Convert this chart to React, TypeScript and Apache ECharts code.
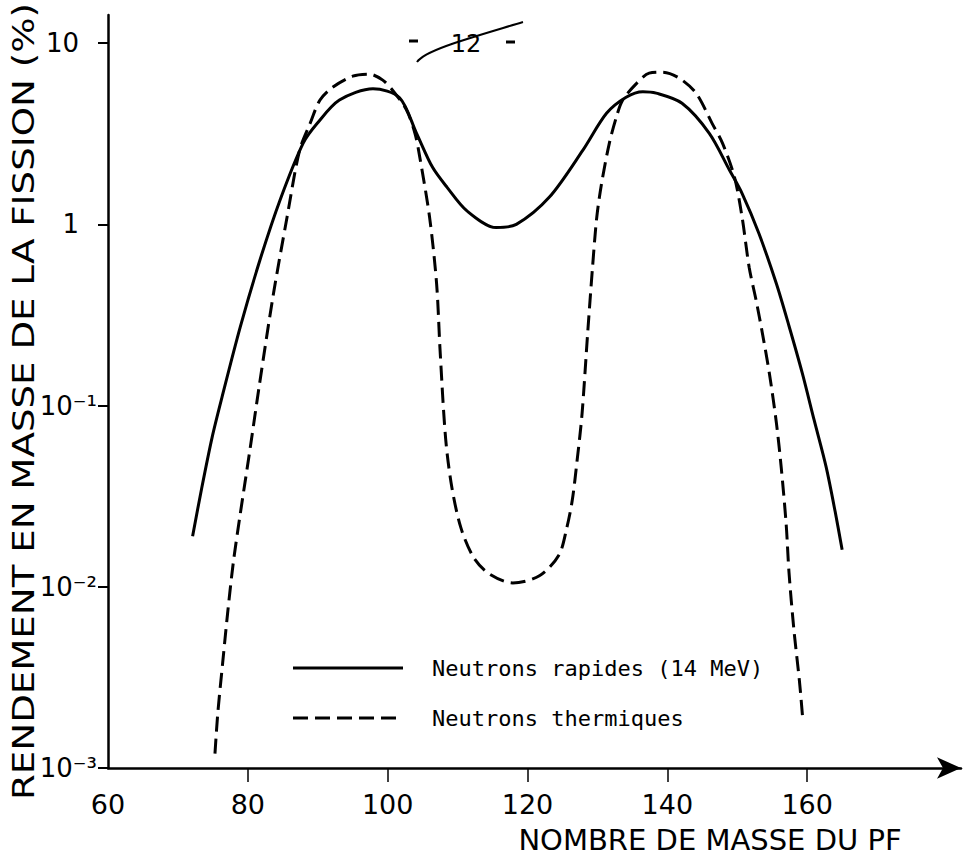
import React, { useEffect, useRef } from 'react';
import * as echarts from 'echarts';

// ---- data ----
const xTickValues = [80, 100, 120, 140, 160];
const xLabelValues = [60, 80, 100, 120, 140, 160];
const yTickValues = [0.001, 0.01, 0.1, 1, 10];

const seriesNames = ['Neutrons rapides (14 MeV)', 'Neutrons thermiques'];
const xAxisTitle = 'NOMBRE DE MASSE DU PF';
const yAxisTitle = 'RENDEMENT EN MASSE DE LA FISSION (%)';
const annotation = '12';

// fast neutrons (14 MeV) – solid curve
const fastMass = [72.1, 73.4, 74.9, 76.3, 78.9, 81.7, 84.6, 87.9, 89.9, 93.1, 97.9, 101.7, 104.1, 106.4, 108.5, 111.3, 115.5, 118.4, 123.1, 127.9, 131.3, 134.1, 136.5, 138.4, 142.1, 146.0, 148.9, 150.7, 153.1, 155.6, 157.4, 159.3, 161.0, 162.7, 164.0, 165.0];
const fastYield = [0.019, 0.035, 0.067, 0.111, 0.27, 0.63, 1.36, 2.8, 3.6, 4.85, 5.6, 5.0, 3.2, 2.07, 1.6, 1.19, 0.96, 1.0, 1.41, 2.56, 4.1, 5.03, 5.4, 5.3, 4.66, 3.18, 1.99, 1.48, 0.89, 0.47, 0.275, 0.151, 0.083, 0.046, 0.026, 0.016];

// thermal neutrons – dashed curve
const thermalMass = [75.3, 75.7, 76.4, 77.1, 77.9, 78.9, 80.3, 81.6, 83.6, 85.6, 87.4, 88.9, 90.3, 92.1, 95.0, 97.4, 99.3, 100.7, 102.7, 103.9, 104.6, 106.0, 107.0, 107.5, 108.3, 109.2, 110.5, 112.3, 114.5, 117.9, 121.7, 124.5, 125.6, 126.4, 127.1, 127.8, 128.6, 129.3, 129.9, 130.6, 131.7, 132.7, 133.6, 135.6, 137.4, 139.3, 141.7, 144.1, 146.4, 147.9, 149.6, 150.7, 151.7, 152.7, 153.6, 154.6, 155.6, 156.3, 157.0, 157.4, 158.1, 158.9, 159.4];
const thermalYield = [0.0012, 0.002, 0.0038, 0.0071, 0.0134, 0.025, 0.057, 0.126, 0.4, 1.09, 2.56, 3.6, 4.84, 5.7, 6.57, 6.74, 6.25, 5.5, 4.27, 3.18, 2.34, 1.09, 0.47, 0.2, 0.065, 0.035, 0.021, 0.0145, 0.0118, 0.0105, 0.0115, 0.015, 0.021, 0.03, 0.05, 0.09, 0.25, 0.58, 1.09, 1.69, 2.8, 3.9, 4.84, 6.0, 6.83, 6.92, 6.41, 5.3, 3.61, 2.8, 1.82, 1.09, 0.58, 0.38, 0.25, 0.15, 0.08, 0.045, 0.022, 0.012, 0.0058, 0.003, 0.0018];

const SUP: Record<string, string> = { '-1': '⁻¹', '-2': '⁻²', '-3': '⁻³' };
const FONT = "'DejaVu Sans', sans-serif";
const MONO = "'DejaVu Sans Mono', monospace";

export default function App() {
  const ref = useRef<HTMLDivElement>(null);

  useEffect(() => {
    if (!ref.current) return;
    const chart = echarts.init(ref.current, null, { renderer: 'svg' });

    const fastData = fastMass.map((m, i) => [m, fastYield[i]]);
    const thermalData = thermalMass.map((m, i) => [m, thermalYield[i]]);

    chart.setOption({
      animation: false,
      backgroundColor: '#ffffff',
      grid: { left: 108, right: 15, top: 15, bottom: 91, outerBoundsMode: 'none' },
      xAxis: {
        type: 'value',
        min: 60,
        max: 182,
        splitLine: { show: false },
        axisLine: {
          show: true,
          symbol: ['none', 'arrow'],
          symbolSize: [16, 24],
          lineStyle: { color: '#000', width: 2.5 },
        },
        axisTick: {
          show: true,
          customValues: xTickValues,
          length: 14,
          lineStyle: { color: '#000', width: 1.5 },
        },
        axisLabel: {
          customValues: xLabelValues,
          margin: 24,
          color: '#000',
          fontSize: 27,
          lineHeight: 24,
          fontFamily: FONT,
        },
      },
      yAxis: {
        type: 'log',
        logBase: 10,
        min: 0.001,
        max: 14.3,
        splitLine: { show: false },
        axisLine: { show: true, lineStyle: { color: '#000', width: 2.5 } },
        axisTick: {
          show: true,
          customValues: yTickValues,
          length: 10,
          lineStyle: { color: '#000', width: 2 },
        },
        axisLabel: {
          customValues: yTickValues,
          margin: 11,
          color: '#000',
          fontSize: 26,
          fontFamily: FONT,
          formatter: (v: number) => {
            const e = Math.round(Math.log10(v));
            if (e >= 0) return `{a|${e === 0 ? '1' : '10'}}`;
            return `{b|10${SUP[String(e)]}}`;
          },
          rich: {
            a: { fontSize: 26, fontFamily: FONT, color: '#000', padding: [0, 18, 0, 0] },
            b: { fontSize: 26, fontFamily: FONT, color: '#000' },
          },
        },
      },
      series: [
        {
          name: seriesNames[0],
          type: 'line',
          data: fastData,
          symbol: 'none',
          smooth: 0.3,
          lineStyle: { color: '#000', width: 3, type: 'solid' },
          itemStyle: { color: '#000' },
        },
        {
          name: seriesNames[1],
          type: 'line',
          data: thermalData,
          symbol: 'none',
          smooth: 0.3,
          lineStyle: { color: '#000', width: 3, type: [15, 7] },
          itemStyle: { color: '#000' },
        },
      ],
      graphic: [
        // y axis title (vertical, reading bottom to top)
        {
          type: 'text',
          x: 24,
          y: 800,
          rotation: Math.PI / 2,
          scaleX: 1.24,
          style: {
            text: yAxisTitle,
            font: `30px ${FONT}`,
            fill: '#000',
            align: 'left',
            verticalAlign: 'middle',
          },
        },
        // x axis title
        {
          type: 'text',
          x: 710,
          y: 840,
          style: {
            text: xAxisTitle,
            font: `29px ${FONT}`,
            lineHeight: 26,
            fill: '#000',
            align: 'center',
            verticalAlign: 'middle',
          },
        },
        // legend
        {
          type: 'line',
          shape: { x1: 293, y1: 668, x2: 403, y2: 668 },
          style: { stroke: '#000', lineWidth: 3 },
        },
        {
          type: 'text',
          x: 432,
          y: 668,
          style: { text: seriesNames[0], font: `22px ${MONO}`, fill: '#000', align: 'left', verticalAlign: 'middle' },
        },
        {
          type: 'line',
          shape: { x1: 293, y1: 718, x2: 403, y2: 718 },
          style: { stroke: '#000', lineWidth: 3, lineDash: [15, 7] },
        },
        {
          type: 'text',
          x: 432,
          y: 718,
          style: { text: seriesNames[1], font: `22px ${MONO}`, fill: '#000', align: 'left', verticalAlign: 'middle' },
        },
        // handwritten page mark "- 12 -"
        {
          type: 'line',
          shape: { x1: 409, y1: 41, x2: 418, y2: 41 },
          style: { stroke: '#000', lineWidth: 3 },
        },
        {
          type: 'text',
          x: 466,
          y: 44,
          style: { text: annotation, font: `24px ${FONT}`, fill: '#000', align: 'center', verticalAlign: 'middle' },
        },
        {
          type: 'line',
          shape: { x1: 506, y1: 42, x2: 515, y2: 42 },
          style: { stroke: '#000', lineWidth: 3 },
        },
        {
          type: 'bezierCurve',
          shape: { x1: 417, y1: 62, cpx1: 425, cpy1: 50, cpx2: 470, cpy2: 38, x2: 523, y2: 22 },
          style: { stroke: '#000', lineWidth: 2, fill: 'none' },
        },
      ],
    });

    return () => chart.dispose();
  }, []);

  return (
    <div
      ref={ref}
      style={{ position: 'absolute', left: 0, top: 0, width: 976, height: 859 }}
    />
  );
}
